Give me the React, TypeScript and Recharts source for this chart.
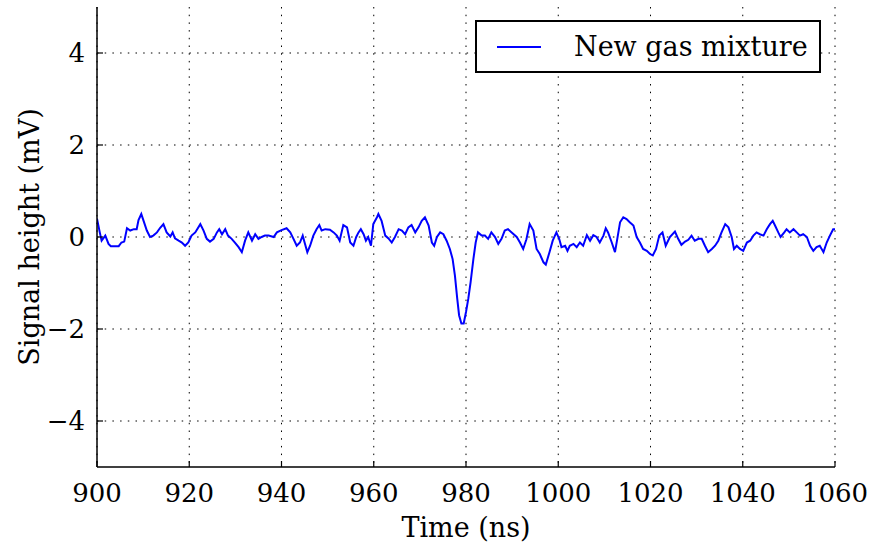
import React from 'react'
import { LineChart, Line, XAxis, YAxis, CartesianGrid } from 'recharts'

// time in ns, signal in mV
const timeNs = [
  900.0, 900.6, 901.0, 901.8, 902.5, 903.0, 904.0, 904.7, 905.3, 905.9,
  906.5, 907.2, 908.0, 908.6, 909.0, 909.6, 910.1, 910.8, 911.5, 912.2,
  913.0, 913.7, 914.4, 915.1, 915.9, 916.4, 916.9, 917.7, 918.4, 919.1,
  919.8, 920.5, 921.3, 922.4, 923.1, 923.8, 924.5, 925.3, 926.0, 926.5,
  927.1, 927.8, 928.4, 929.2, 929.9, 930.7, 931.4, 932.1, 932.8, 933.6,
  934.3, 935.0, 935.7, 936.4, 937.2, 938.3, 939.0, 940.0, 941.1, 941.9,
  942.6, 943.3, 944.0, 944.6, 945.1, 945.6, 946.2, 946.9, 947.6, 948.2,
  948.7, 949.5, 950.5, 951.3, 952.0, 952.6, 953.4, 954.2, 954.9, 955.6,
  956.2, 956.7, 957.2, 957.8, 958.3, 958.8, 959.4, 959.9, 960.7, 961.0,
  961.7, 962.5, 963.2, 963.9, 964.6, 965.4, 966.1, 966.8, 967.5, 968.2,
  969.0, 969.7, 970.4, 971.1, 971.9, 972.6, 973.1, 973.7, 974.4, 975.1,
  975.8, 976.5, 977.1, 977.6, 978.1, 978.5, 979.0, 979.5, 980.0, 980.5,
  981.0, 981.6, 982.1, 982.6, 983.4, 984.1, 984.8, 985.5, 986.3, 987.0,
  987.7, 988.4, 989.1, 989.9, 991.0, 991.7, 992.4, 993.1, 993.8, 994.6,
  995.3, 996.0, 996.8, 997.3, 998.1, 998.8, 999.6, 1000.2, 1000.7, 1001.5,
  1002.0, 1002.5, 1003.3, 1004.0, 1004.7, 1005.4, 1006.2, 1006.9, 1007.6, 1008.3,
  1009.0, 1009.8, 1010.3, 1010.8, 1011.6, 1012.3, 1012.8, 1013.4, 1014.1, 1014.8,
  1015.5, 1016.3, 1017.0, 1017.7, 1018.4, 1019.2, 1019.9, 1020.5, 1021.2, 1021.9,
  1022.6, 1023.3, 1024.2, 1025.3, 1026.0, 1026.7, 1027.5, 1028.2, 1028.9, 1029.6,
  1030.4, 1031.1, 1031.8, 1032.5, 1033.3, 1034.0, 1034.7, 1035.4, 1036.2, 1036.9,
  1037.6, 1038.1, 1038.7, 1039.4, 1040.1, 1040.9, 1041.6, 1042.3, 1043.0, 1043.7,
  1044.5, 1045.2, 1045.9, 1046.5, 1047.0, 1047.7, 1048.2, 1049.0, 1049.5, 1050.2,
  1051.0, 1051.7, 1052.4, 1053.1, 1053.9, 1054.6, 1055.3, 1056.0, 1056.7, 1057.5,
  1058.2, 1058.9, 1059.6, 1060.0,
]

const signalMv = [
  0.40, 0.10, -0.08, 0.03, -0.15, -0.20, -0.20, -0.20, -0.12, -0.10,
  0.19, 0.14, 0.17, 0.17, 0.37, 0.50, 0.35, 0.14, 0.00, 0.03,
  0.10, 0.20, 0.28, 0.10, 0.01, 0.10, -0.03, -0.08, -0.12, -0.19,
  -0.12, 0.03, 0.10, 0.28, 0.14, -0.04, -0.10, -0.04, 0.10, 0.17,
  0.06, 0.17, 0.03, -0.04, -0.12, -0.22, -0.33, -0.08, 0.10, -0.08,
  0.06, -0.04, 0.00, 0.03, 0.03, 0.00, 0.10, 0.15, 0.19, 0.10,
  -0.04, -0.19, -0.12, 0.03, -0.15, -0.33, -0.19, 0.03, 0.17, 0.26,
  0.14, 0.17, 0.16, 0.10, 0.03, -0.08, 0.26, 0.21, -0.12, -0.19,
  0.00, 0.10, 0.17, 0.06, -0.08, 0.00, -0.19, 0.28, 0.43, 0.50,
  0.35, 0.03, -0.03, -0.12, 0.00, 0.17, 0.14, 0.06, 0.21, 0.26,
  0.10, 0.21, 0.35, 0.43, 0.25, -0.12, -0.19, 0.00, 0.10, 0.06,
  -0.08, -0.26, -0.48, -0.84, -1.34, -1.70, -1.88, -1.88, -1.63, -1.34,
  -0.98, -0.48, -0.12, 0.10, 0.03, 0.03, -0.04, 0.10, 0.00, -0.15,
  -0.04, 0.14, 0.17, 0.10, 0.00, -0.12, -0.26, -0.05, 0.28, 0.14,
  -0.26, -0.37, -0.55, -0.60, -0.33, -0.08, 0.10, -0.04, -0.22, -0.19,
  -0.30, -0.19, -0.15, -0.22, -0.12, -0.19, 0.04, -0.08, 0.04, 0.00,
  -0.12, 0.03, 0.19, 0.10, -0.12, -0.33, -0.04, 0.32, 0.43, 0.39,
  0.32, 0.25, 0.00, -0.12, -0.26, -0.30, -0.37, -0.40, -0.26, 0.03,
  0.10, -0.19, 0.00, 0.12, -0.04, -0.17, -0.10, -0.06, 0.03, -0.08,
  -0.04, -0.04, -0.19, -0.33, -0.26, -0.19, -0.08, 0.10, 0.28, 0.21,
  0.00, -0.26, -0.19, -0.26, -0.30, -0.12, -0.08, 0.03, 0.10, 0.06,
  0.03, 0.17, 0.28, 0.35, 0.25, 0.10, 0.00, 0.10, 0.17, 0.10,
  0.17, 0.10, 0.03, 0.06, 0.00, -0.19, -0.30, -0.22, -0.19, -0.33,
  -0.12, 0.03, 0.17, 0.17,
]

const xTicks = [900, 920, 940, 960, 980, 1000, 1020, 1040, 1060]
const yTicks = [-4, -2, 0, 2, 4]
const seriesName = 'New gas mixture'

const data = timeNs.map((t, i) => ({ t, v: signalMv[i] }))

const FONT = "'DejaVu Serif', 'Liberation Serif', 'Times New Roman', Times, serif"
const FS = 26
const LABEL_FS = 27
const TICK_LEN = 6
const fmt = (v: number) => (v < 0 ? '\u2212' + Math.abs(v) : String(v))

const BottomTick = (props: any) => {
  const { x, y, payload } = props
  return (
    <g>
      <line x1={x} y1={y} x2={x} y2={y - TICK_LEN} stroke="#000" strokeWidth={1.2} />
      <text x={x} y={y + 35} textAnchor="middle" fontFamily={FONT} fontSize={FS} fill="#000">
        {payload.value}
      </text>
    </g>
  )
}

const TopTick = (props: any) => {
  const { x, y } = props
  return <line x1={x} y1={y} x2={x} y2={y + TICK_LEN} stroke="#000" strokeWidth={1.2} />
}

const LeftTick = (props: any) => {
  const { x, y, payload } = props
  return (
    <g>
      <line x1={x} y1={y} x2={x + TICK_LEN} y2={y} stroke="#000" strokeWidth={1.2} />
      <text x={x - 12} y={y + 9} textAnchor="end" fontFamily={FONT} fontSize={FS} fill="#000">
        {fmt(payload.value)}
      </text>
    </g>
  )
}

const RightTick = (props: any) => {
  const { x, y } = props
  return <line x1={x} y1={y} x2={x - TICK_LEN} y2={y} stroke="#000" strokeWidth={1.2} />
}

export default function App() {
  return (
    <div style={{ position: 'absolute', left: 0, top: 0, width: 871, height: 544, background: '#fff' }}>
      <LineChart width={871} height={544} data={data} margin={{ top: 7, right: 36, bottom: 0, left: 0 }}>
        <CartesianGrid
          xAxisId="b"
          yAxisId="l"
          stroke="#000"
          strokeWidth={1}
          strokeDasharray="1.5 6.2"
          horizontalValues={yTicks}
          verticalValues={xTicks}
        />
        <XAxis
          xAxisId="b"
          dataKey="t"
          type="number"
          domain={[900, 1060]}
          ticks={xTicks}
          allowDataOverflow
          orientation="bottom"
          height={77}
          tickSize={0}
          tickMargin={0}
          tickLine={false}
          axisLine={{ stroke: '#000', strokeWidth: 1.5 }}
          tick={<BottomTick />}
          interval={0}
          label={{
            value: 'Time (ns)',
            position: 'insideBottom',
            offset: 7,
            style: { fontFamily: FONT, fontSize: LABEL_FS, fill: '#000' },
          }}
        />
        <XAxis
          xAxisId="top"
          dataKey="t"
          type="number"
          domain={[900, 1060]}
          ticks={xTicks}
          allowDataOverflow
          orientation="top"
          height={0}
          tickSize={0}
          tickMargin={0}
          tickLine={false}
          axisLine={{ stroke: '#000', strokeWidth: 1.5 }}
          tick={<TopTick />}
          interval={0}
        />
        <YAxis
          yAxisId="l"
          type="number"
          domain={[-5, 5]}
          ticks={yTicks}
          allowDataOverflow
          width={97}
          tickSize={0}
          tickMargin={0}
          tickLine={false}
          axisLine={{ stroke: '#000', strokeWidth: 1.5 }}
          tick={<LeftTick />}
          interval={0}
          label={{
            value: 'Signal height (mV)',
            angle: -90,
            position: 'insideLeft',
            offset: 29,
            style: { textAnchor: 'middle', fontFamily: FONT, fontSize: LABEL_FS, fill: '#000' },
          }}
        />
        <YAxis
          yAxisId="r"
          orientation="right"
          type="number"
          domain={[-5, 5]}
          ticks={yTicks}
          allowDataOverflow
          width={0}
          tickSize={0}
          tickMargin={0}
          tickLine={false}
          axisLine={{ stroke: '#000', strokeWidth: 1.5 }}
          tick={<RightTick />}
          interval={0}
        />
        <Line
          xAxisId="b"
          yAxisId="l"
          type="linear"
          dataKey="v"
          name={seriesName}
          stroke="#0000ff"
          strokeWidth={2}
          dot={false}
          isAnimationActive={false}
        />
      </LineChart>
      <div
        style={{
          position: 'absolute',
          left: 475,
          top: 20,
          boxSizing: 'border-box',
          width: 346,
          height: 53,
          border: '2px solid #000',
          background: '#fff',
          display: 'flex',
          alignItems: 'center',
          fontFamily: FONT,
          fontSize: LABEL_FS,
          color: '#000',
        }}
      >
        <div style={{ width: 44, height: 2, background: '#0000ff', marginLeft: 20, marginRight: 33 }} />
        <span>{seriesName}</span>
      </div>
    </div>
  )
}
